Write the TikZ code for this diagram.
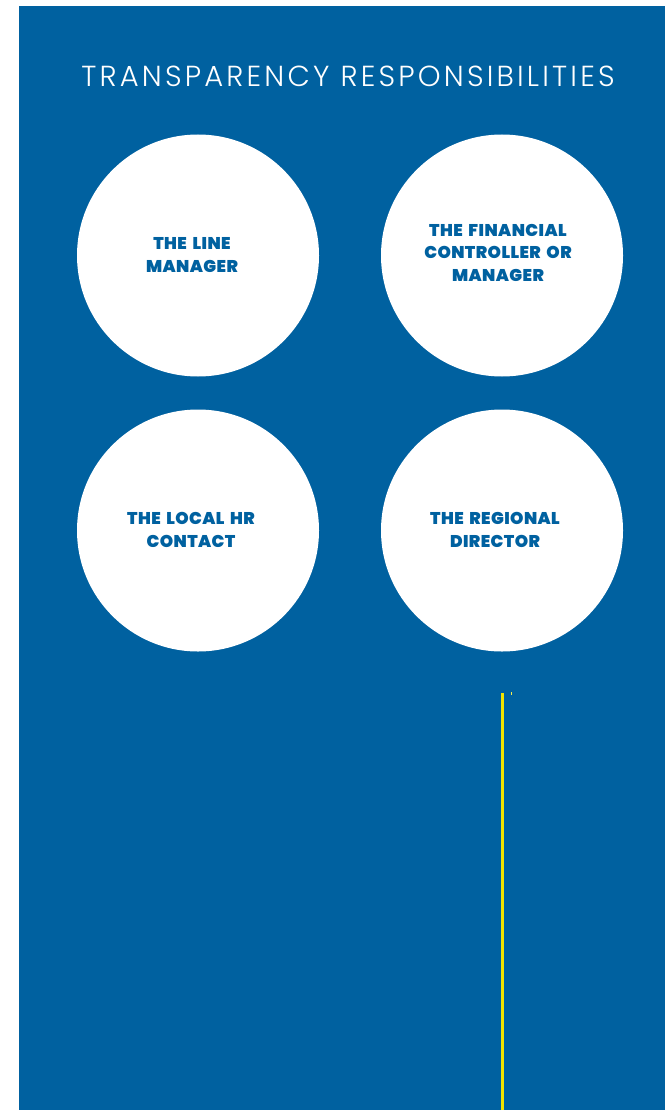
\documentclass[tikz,border=0pt]{standalone}
\usepackage{fontspec}
\setmainfont{Poppins}[UprightFont=* Black, LetterSpace=2.5, WordSpace=1.7]
\newfontfamily\titlefont{Poppins}[UprightFont=* Light, LetterSpace=11]
\definecolor{brandblue}{HTML}{0061A0}
\definecolor{accentyellow}{HTML}{F2E400}
\tikzset{
  role/.style={circle, fill=white, minimum size=242pt, inner sep=0pt},
  rolelabel/.style={text=brandblue, align=center, font=\fontsize{17}{22.5}\selectfont},
}
\begin{document}
\begin{tikzpicture}[x=1pt, y=-1pt]
  \useasboundingbox (0,0) rectangle (665,1110);
  % page panel
  \fill[brandblue] (19,6) rectangle (665,1110);
  % heading
  \node[text=white, font=\titlefont\fontsize{29}{34}\selectfont] (title) at (348,76) {TRANSPARENCY RESPONSIBILITIES};
  % role circles
  \node[role] (line) at (198,255.5) {};
  \node[role] (fin) at (502,255.5) {};
  \node[role] (hr) at (198,530.5) {};
  \node[role] (reg) at (502,530.5) {};
  \node[rolelabel] (linet) at (192,255) {THE LINE\\MANAGER};
  \node[rolelabel] (fint) at (498,252.5) {THE FINANCIAL\\CONTROLLER OR\\MANAGER};
  \node[rolelabel] (hrt) at (191,530) {THE LOCAL HR\\CONTACT};
  \node[rolelabel] (regt) at (495,530) {THE REGIONAL\\DIRECTOR};
  % accent rule
  \coordinate (ruletop) at (502.5,693);
  \coordinate (rulebot) at (502.5,1110);
  \draw[accentyellow, line width=3pt] (ruletop) -- (rulebot);
  \coordinate (ticktop) at (511,692);
  \coordinate (tickbot) at (511,695);
  \draw[accentyellow!70!white, line width=1pt] (ticktop) -- (tickbot);
\end{tikzpicture}
\end{document}
